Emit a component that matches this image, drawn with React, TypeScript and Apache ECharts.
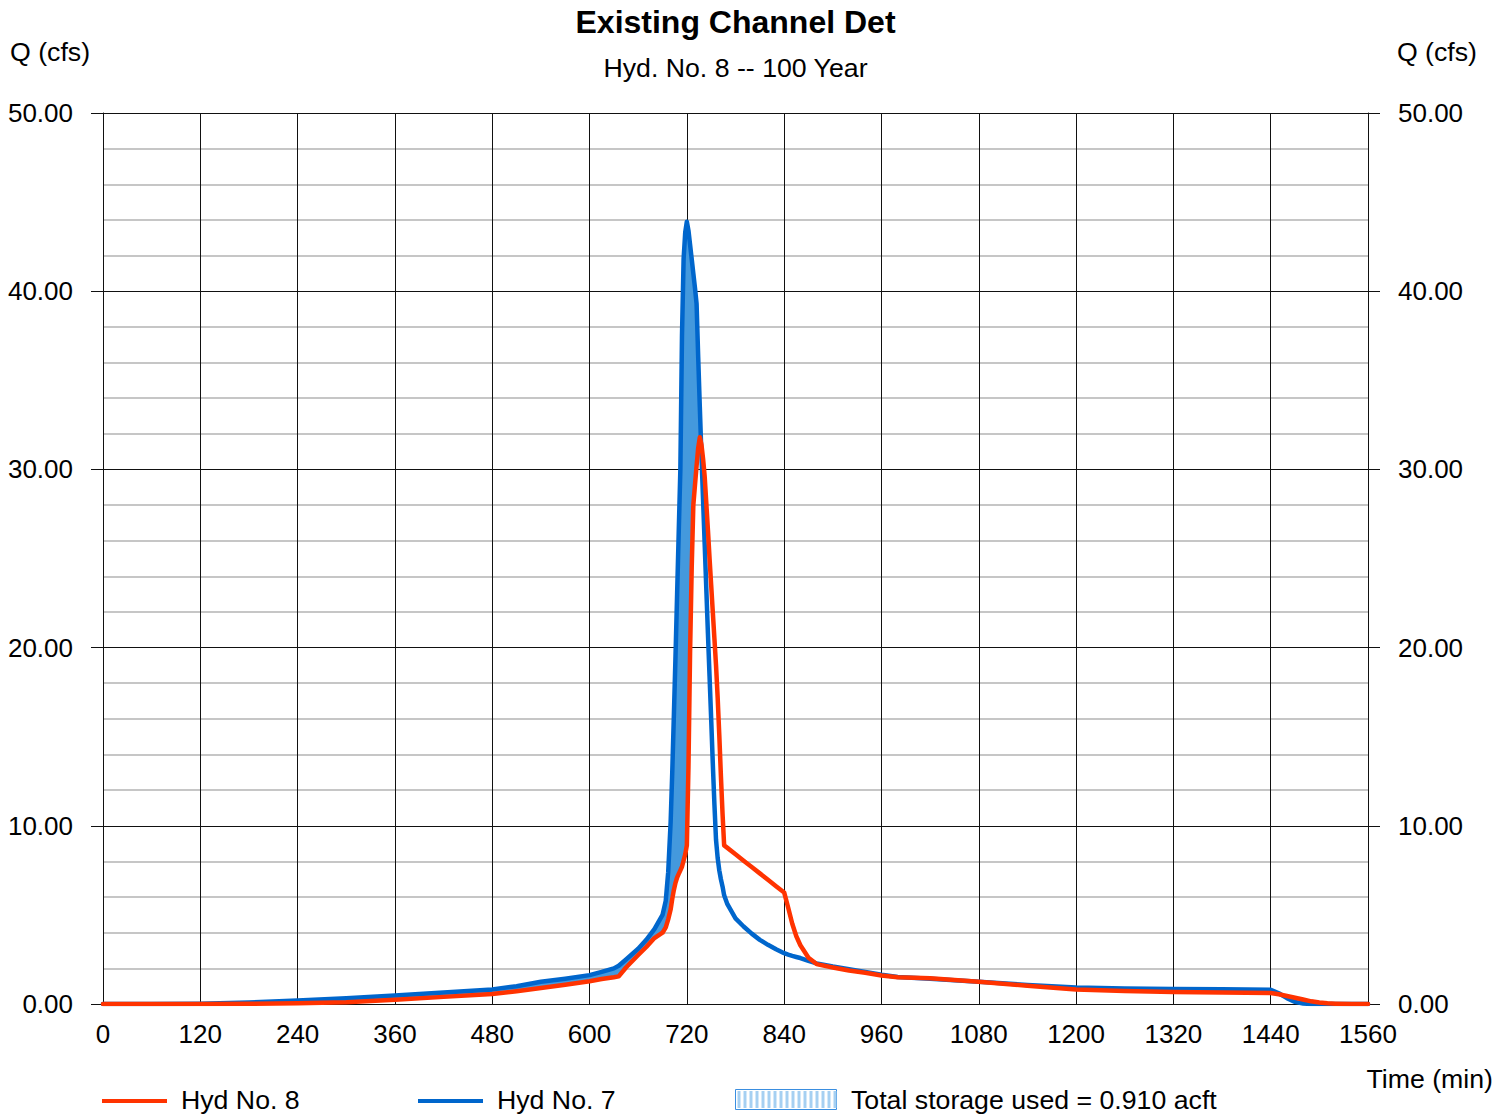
import React, { useEffect, useRef } from "react";
import * as echarts from "echarts";

// Time (min)
const times = [
  0, 60, 120, 180, 240, 300, 360, 420, 480, 510, 540, 570, 600, 615, 630, 636, 645,
  660, 670, 680, 690, 694, 697,
  700, 702, 704, 706, 708, 710, 712, 714, 716, 718, 720, 722, 724, 726, 728, 730, 732,
  734, 736, 738, 740, 742, 744, 746, 748, 750, 752, 754, 756, 758, 760, 762, 764, 766,
  770, 780, 790, 800, 810, 820, 830, 840, 845, 850, 855, 860, 870, 880,
  900, 920, 940, 960, 980, 1020, 1080, 1140, 1200, 1260, 1320, 1380, 1440,
  1450, 1460, 1470, 1480, 1490, 1500, 1510, 1520, 1540, 1560,
];

// Hyd No. 7 (inflow), Q (cfs)
const hyd7 = [
  0, 0, 0.02, 0.08, 0.19, 0.32, 0.48, 0.64, 0.82, 1.0, 1.25, 1.42, 1.62, 1.8, 2.0, 2.15, 2.5,
  3.1, 3.6, 4.2, 5.0, 5.8, 7.4,
  10.2, 13.0, 16.2, 19.5, 23.0, 26.5, 30.0, 37.5, 41.8, 43.3, 43.9, 43.4, 42.6, 41.8, 41.0, 40.2, 39.3,
  36.3, 33.5, 30.8, 28.3, 25.8, 23.3, 20.8, 18.4, 16.0, 13.5, 11.2, 9.2, 8.2, 7.5, 7.0, 6.6, 6.1,
  5.6, 4.8, 4.35, 3.95, 3.6, 3.32, 3.07, 2.85, 2.77, 2.7, 2.64, 2.58, 2.42, 2.28,
  2.1, 1.95, 1.8, 1.64, 1.52, 1.42, 1.25, 1.07, 0.92, 0.87, 0.84, 0.83, 0.8,
  0.6, 0.33, 0.12, 0.03, 0, 0, 0, 0, 0, 0,
];

// Hyd No. 8 (outflow), Q (cfs)
const hyd8 = [
  0, 0, 0, 0.01, 0.04, 0.1, 0.24, 0.4, 0.56, 0.72, 0.9, 1.08, 1.28, 1.4, 1.5, 1.55, 2.05,
  2.75, 3.2, 3.7, 4.0, 4.3, 4.75,
  5.3, 5.9, 6.4, 6.8, 7.1, 7.3, 7.5, 7.7, 8.05, 8.4, 8.9, 13.3, 19.8, 24.5, 28.0, 29.1, 30.2,
  31.2, 31.8, 31.4, 30.6, 29.6, 28.1, 26.6, 25.0, 23.5, 22.0, 20.5, 19.0, 17.2, 15.1, 12.8, 10.7, 8.9,
  8.76, 8.4, 8.04, 7.69, 7.33, 6.97, 6.61, 6.26, 5.4, 4.5, 3.8, 3.3, 2.6, 2.24,
  2.05, 1.88, 1.75, 1.6, 1.5, 1.45, 1.25, 1.02, 0.82, 0.73, 0.68, 0.65, 0.62,
  0.55, 0.45, 0.35, 0.25, 0.15, 0.08, 0.04, 0.02, 0, 0,
];

const chartTitle = "Existing Channel Det";
const chartSubtitle = "Hyd. No. 8 -- 100 Year";
const yName = "Q (cfs)";
const xName = "Time (min)";
const legendNames = ["Hyd No. 8", "Hyd No. 7", "Total storage used = 0.910 acft"];

export default function App() {
  const ref = useRef<HTMLDivElement>(null);

  useEffect(() => {
    if (!ref.current) return;
    const chart = echarts.init(ref.current, null, { renderer: "svg" });
    const font = "'Liberation Sans', Arial, sans-serif";
    const red = "#ff3300";
    const blue = "#0066cc";
    const fill = "#4499dd";
    const black = "#111111";
    const txt = `26.7px ${font}`;

    const pairs = (vals: number[]) => times.map((t, i) => [t, vals[i]]);
    const storageData = times.map((t, i) => [t, hyd7[i], hyd8[i]]);

    const stripes: any[] = [];
    for (let x = 739; x < 836; x += 6) {
      stripes.push({
        type: "line",
        shape: { x1: x, y1: 1091, x2: x, y2: 1108 },
        style: { stroke: "#a6d0f2", lineWidth: 3 },
      });
    }

    const yAxisBase = (pos: "left" | "right", split: boolean) => ({
      type: "value",
      min: 0,
      max: 50,
      interval: 10,
      position: pos,
      axisLine: { show: true, lineStyle: { color: black, width: 1 } },
      axisTick: { show: true, length: 12, lineStyle: { color: black, width: 1 } },
      axisLabel: {
        formatter: (v: number) => v.toFixed(2),
        fontSize: 26,
        color: "#000",
        margin: 30,
        fontFamily: font,
      },
      splitLine: { show: split, lineStyle: { color: black, width: 1 } },
      minorTick: { show: false, splitNumber: 5 },
      minorSplitLine: { show: split, lineStyle: { color: "#c6c6c6", width: 2 } },
    });

    const legendText = (x: number, text: string) => ({
      type: "text",
      x,
      y: 1100,
      style: {
        text,
        font: txt,
        lineHeight: 24,
        fill: "#000",
        align: "left",
        verticalAlign: "middle",
      },
    });

    chart.setOption({
      animation: false,
      backgroundColor: "#ffffff",
      grid: { left: 103, right: 142, top: 113, bottom: 110, containLabel: false },
      xAxis: {
        type: "value",
        min: 0,
        max: 1560,
        interval: 120,
        axisLine: { show: true, lineStyle: { color: black, width: 1 } },
        axisTick: { show: false },
        axisLabel: {
          fontSize: 26,
          color: "#000",
          margin: 17,
          fontFamily: font,
          formatter: (v: number) => String(v),
        },
        splitLine: { show: true, lineStyle: { color: black, width: 1 } },
      },
      yAxis: [yAxisBase("left", true), yAxisBase("right", false)],
      series: [
        {
          type: "custom",
          name: legendNames[2],
          data: storageData,
          silent: true,
          z: 1,
          encode: { x: 0, y: [1, 2] },
          renderItem: (params: any, api: any) => {
            if (params.dataIndex !== 0) return null;
            const top: number[][] = [];
            const bottom: number[][] = [];
            for (let i = 0; i < times.length; i++) {
              top.push(api.coord([times[i], Math.max(hyd7[i], hyd8[i])]));
              bottom.push(api.coord([times[i], hyd8[i]]));
            }
            const points = top.concat(bottom.reverse());
            return {
              type: "polygon",
              shape: { points },
              style: { fill, stroke: "none" },
            };
          },
        },
        {
          type: "line",
          name: legendNames[1],
          data: pairs(hyd7),
          symbol: "none",
          lineStyle: { color: blue, width: 4.5, join: "round", cap: "round" },
          z: 3,
        },
        {
          type: "line",
          name: legendNames[0],
          data: pairs(hyd8),
          symbol: "none",
          lineStyle: { color: red, width: 4.5, join: "round", cap: "round" },
          z: 4,
        },
      ],
      graphic: [
        {
          type: "text",
          x: 735.5,
          y: 22,
          style: {
            text: chartTitle,
            font: `bold 32px ${font}`,
            fill: "#000",
            align: "center",
            verticalAlign: "middle",
          },
        },
        {
          type: "text",
          x: 735.5,
          y: 68,
          style: {
            text: chartSubtitle,
            font: txt,
            fill: "#000",
            align: "center",
            verticalAlign: "middle",
          },
        },
        {
          type: "text",
          x: 10,
          y: 52,
          style: { text: yName, font: txt, fill: "#000", align: "left", verticalAlign: "middle" },
        },
        {
          type: "text",
          x: 1477,
          y: 52,
          style: { text: yName, font: txt, fill: "#000", align: "right", verticalAlign: "middle" },
        },
        {
          type: "text",
          x: 1493,
          y: 1079,
          style: { text: xName, font: txt, fill: "#000", align: "right", verticalAlign: "middle" },
        },
        {
          type: "line",
          shape: { x1: 102, y1: 1101, x2: 167, y2: 1101 },
          style: { stroke: red, lineWidth: 4 },
        },
        legendText(181, legendNames[0]),
        {
          type: "line",
          shape: { x1: 418, y1: 1101, x2: 483, y2: 1101 },
          style: { stroke: blue, lineWidth: 4 },
        },
        legendText(497, legendNames[1]),
        {
          type: "rect",
          shape: { x: 735.5, y: 1089.5, width: 101, height: 20 },
          style: { fill: "#ffffff", stroke: "#3a8ee0", lineWidth: 1 },
        },
        ...stripes,
        legendText(851, legendNames[2]),
      ],
    });

    return () => chart.dispose();
  }, []);

  return (
    <div
      ref={ref}
      style={{ position: "absolute", left: 0, top: 0, width: 1510, height: 1114 }}
    />
  );
}
